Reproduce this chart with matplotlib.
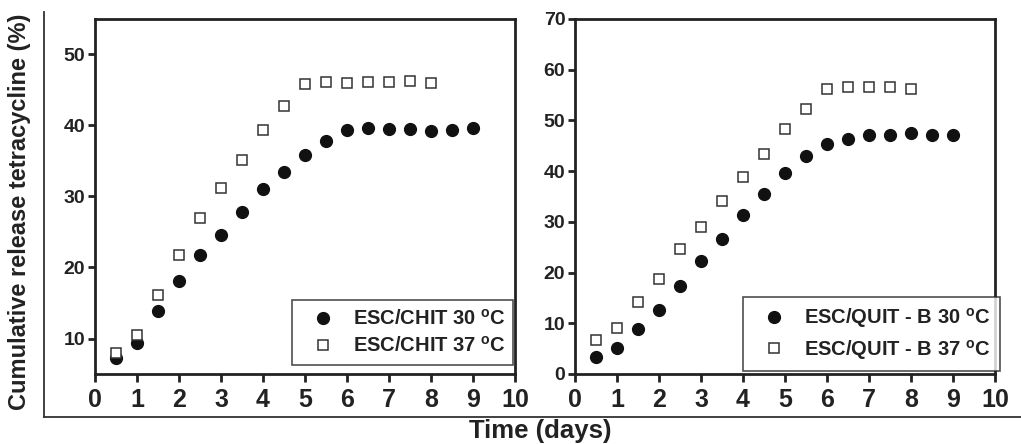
import matplotlib
matplotlib.use("Agg")
import matplotlib.pyplot as plt
from matplotlib.lines import Line2D

plt.rcParams['font.family'] = ['Liberation Sans', 'DejaVu Sans']
plt.rcParams['font.weight'] = 'bold'
plt.rcParams['mathtext.fontset'] = 'custom'
plt.rcParams['mathtext.rm'] = 'Liberation Sans:bold'
plt.rcParams['mathtext.bf'] = 'Liberation Sans:bold'

days_chit = [0.5, 1, 1.5, 2, 2.5, 3, 3.5, 4, 4.5, 5, 5.5, 6, 6.5, 7, 7.5, 8, 8.5, 9]
chit_30 = [7.2, 9.4, 13.85, 18.1, 21.7, 24.55, 27.75, 31.1, 33.4, 35.8, 37.8, 39.4, 39.6, 39.5, 39.5, 39.2, 39.4, 39.6]
days_chit37 = [0.5, 1, 1.5, 2, 2.5, 3, 3.5, 4, 4.5, 5, 5.5, 6, 6.5, 7, 7.5, 8]
chit_37 = [7.9, 10.5, 16.15, 21.8, 26.95, 31.2, 35.1, 39.35, 42.8, 45.9, 46.1, 46.0, 46.1, 46.1, 46.2, 46.05]

days_quit = [0.5, 1, 1.5, 2, 2.5, 3, 3.5, 4, 4.5, 5, 5.5, 6, 6.5, 7, 7.5, 8, 8.5, 9]
quit_30 = [3.3, 5.1, 8.95, 12.7, 17.4, 22.35, 26.7, 31.3, 35.4, 39.6, 42.9, 45.4, 46.35, 47.1, 47.1, 47.6, 47.1, 47.1]
days_quit37 = [0.5, 1, 1.5, 2, 2.5, 3, 3.5, 4, 4.5, 5, 5.5, 6, 6.5, 7, 7.5, 8]
quit_37 = [6.8, 9.1, 14.2, 18.8, 24.6, 29.0, 34.1, 38.9, 43.4, 48.4, 52.3, 56.1, 56.5, 56.5, 56.5, 56.2]

labels_left = [r'ESC/CHIT 30 $^{\rm o}$C', r'ESC/CHIT 37 $^{\rm o}$C']
labels_right = [r'ESC/QUIT - B 30 $^{\rm o}$C', r'ESC/QUIT - B 37 $^{\rm o}$C']
xticks = list(range(0, 11))
yticks_left = [10, 20, 30, 40, 50]
yticks_right = [0, 10, 20, 30, 40, 50, 60, 70]

W, H = 1021, 444
fig = plt.figure(figsize=(W / 100, H / 100), dpi=100)

axL = fig.add_axes([95 / W, 1 - 374 / H, 420 / W, 355 / H])
axR = fig.add_axes([575 / W, 1 - 374 / H, 420 / W, 355 / H])

circ = dict(marker='o', linestyle='none', markersize=8.5, markerfacecolor='#111111',
            markeredgecolor='#111111')
sq = dict(marker='s', linestyle='none', markersize=7.5, markerfacecolor='white',
          markeredgecolor='#333333', markeredgewidth=1.1)

def style(ax, yticks, ylim):
    ax.set_xlim(0, 10)
    ax.set_ylim(*ylim)
    ax.set_xticks(xticks)
    ax.set_yticks(yticks)
    for s in ax.spines.values():
        s.set_linewidth(2)
        s.set_color('#222222')
    ax.tick_params(axis='x', direction='out', length=6, width=2, labelsize=18, pad=4,
                   colors='#222222')
    ax.tick_params(axis='y', direction='out', length=5, width=2, labelsize=14, pad=2,
                   colors='#222222')
    for t in ax.get_xticklabels() + ax.get_yticklabels():
        t.set_fontweight('bold')

axL.plot(days_chit, chit_30, label=labels_left[0], **circ)
axL.plot(days_chit37, chit_37, label=labels_left[1], **sq)
style(axL, yticks_left, (5, 55))

axR.plot(days_quit, quit_30, label=labels_right[0], **circ)
axR.plot(days_quit37, quit_37, label=labels_right[1], **sq)
style(axR, yticks_right, (0, 70))

def legend(ax, x0, y0, x1, y1):
    ax_x0 = 95 if ax is axL else 575
    bx0 = (x0 - ax_x0) / 420
    bx1 = (x1 - ax_x0) / 420
    by0 = (374 - y1) / 355
    by1 = (374 - y0) / 355
    lg = ax.legend(loc='center', bbox_to_anchor=(bx0, by0, bx1 - bx0, by1 - by0),
                   mode='expand', borderaxespad=0,
                   frameon=True, fancybox=False, shadow=False,
                   prop={'weight': 'bold', 'size': 14.5}, handletextpad=0.4,
                   borderpad=0.45, labelspacing=0.35, handlelength=2.2)
    fr = lg.get_frame()
    fr.set_edgecolor('#222222')
    fr.set_linewidth(1.2)
    for t in lg.get_texts():
        t.set_color('#222222')
    lg.set_clip_on(False)
    return lg

legend(axL, 292, 298, 513, 367)
legend(axR, 743, 301, 1000, 367)

# outer bracket lines
fig.add_artist(Line2D([44 / W, 44 / W], [1 - 12 / H, 1 - 417 / H], color='#333333', lw=1.3))
fig.add_artist(Line2D([44 / W, 1.0], [1 - 417 / H, 1 - 417 / H], color='#333333', lw=1.3))

fig.text(20 / W, 1 - 212 / H, 'Cumulative release tetracycline (%)', rotation=90,
         ha='center', va='center', fontsize=17, fontweight='bold', color='#222222')
fig.text(540 / W, 1 - 431 / H, 'Time (days)', ha='center', va='center',
         fontsize=18.5, fontweight='bold', color='#222222')

fig.savefig('out.png', dpi=100)
